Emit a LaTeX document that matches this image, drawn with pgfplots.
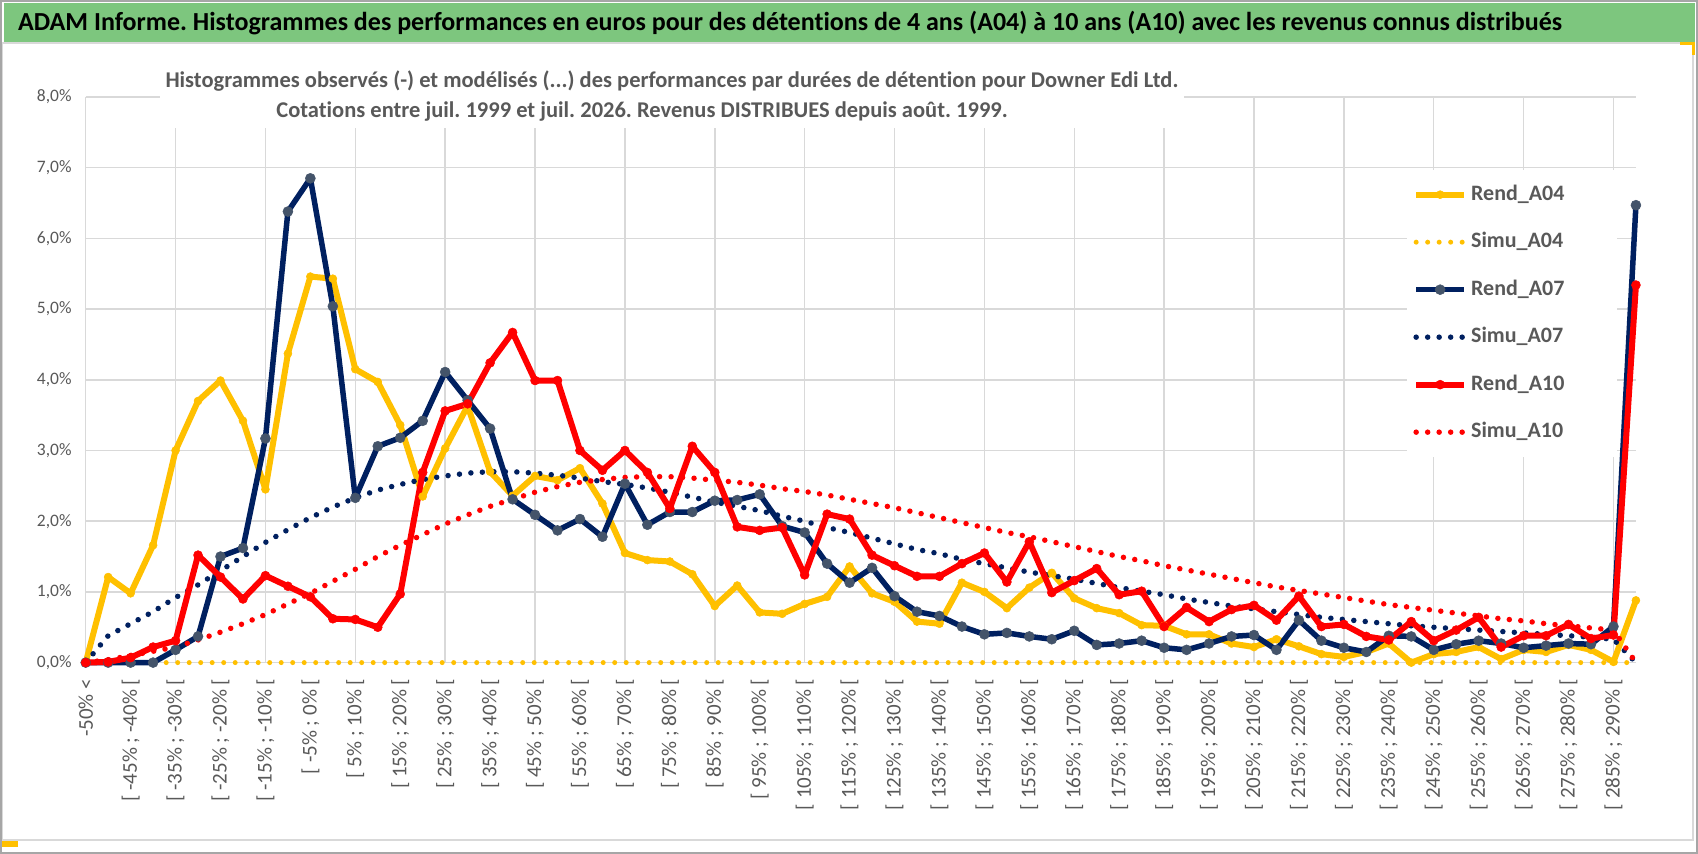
\documentclass[border=0pt]{standalone}
\usepackage{pgfplots}
\pgfplotsset{compat=1.18}
\usepackage{pgfplotstable}
\usepackage{fontspec}
\setmainfont{Carlito}[Ligatures=NoCommon]
\frenchspacing
\definecolor{yellowc}{HTML}{FFC000}
\definecolor{navyc}{HTML}{002060}
\definecolor{slatec}{HTML}{44546A}
\definecolor{redc}{HTML}{FF0000}
\definecolor{gridgray}{HTML}{D9D9D9}
\definecolor{textgray}{HTML}{595959}
\definecolor{titlegreen}{HTML}{7DC67E}
\definecolor{framegray}{HTML}{A6A6A6}

\pgfplotstableread{
i a04 s04 a07 s07 a10 s10
0 0.00 0 0.00 0.00 0.00 0.00
1 1.21 0 0.00 0.38 0.01 0.04
2 0.98 0 0.00 0.55 0.07 0.10
3 1.66 0 0.00 0.72 0.22 0.16
4 3.00 0 0.18 0.92 0.31 0.22
5 3.70 0 0.37 1.10 1.52 0.32
6 3.99 0 1.50 1.30 1.21 0.43
7 3.42 0 1.62 1.50 0.90 0.55
8 2.45 0 3.17 1.70 1.23 0.68
9 4.37 0 6.38 1.88 1.08 0.83
10 5.46 0 6.85 2.05 0.93 0.98
11 5.43 0 5.04 2.20 0.62 1.15
12 4.15 0 2.33 2.33 0.61 1.32
13 3.97 0 3.06 2.44 0.50 1.50
14 3.36 0 3.18 2.52 0.97 1.66
15 2.35 0 3.42 2.59 2.69 1.81
16 3.03 0 4.11 2.64 3.56 1.96
17 3.63 0 3.71 2.68 3.66 2.09
18 2.70 0 3.31 2.70 4.24 2.21
19 2.36 0 2.31 2.70 4.67 2.31
20 2.64 0 2.09 2.68 3.99 2.41
21 2.58 0 1.87 2.65 3.99 2.49
22 2.75 0 2.03 2.61 3.00 2.55
23 2.25 0 1.78 2.56 2.72 2.59
24 1.55 0 2.53 2.52 3.00 2.62
25 1.45 0 1.95 2.47 2.69 2.63
26 1.43 0 2.13 2.41 2.18 2.63
27 1.25 0 2.13 2.34 3.06 2.61
28 0.80 0 2.29 2.27 2.69 2.58
29 1.09 0 2.30 2.21 1.92 2.55
30 0.71 0 2.38 2.15 1.87 2.51
31 0.69 0 1.93 2.07 1.91 2.46
32 0.83 0 1.84 2.00 1.24 2.42
33 0.93 0 1.40 1.91 2.10 2.37
34 1.36 0 1.13 1.84 2.03 2.31
35 0.98 0 1.34 1.76 1.52 2.25
36 0.86 0 0.94 1.68 1.37 2.19
37 0.58 0 0.72 1.60 1.22 2.12
38 0.55 0 0.66 1.54 1.22 2.05
39 1.13 0 0.51 1.46 1.40 1.98
40 1.00 0 0.40 1.40 1.55 1.91
41 0.77 0 0.42 1.34 1.14 1.84
42 1.06 0 0.37 1.28 1.71 1.78
43 1.27 0 0.33 1.23 0.99 1.71
44 0.91 0 0.45 1.18 1.16 1.64
45 0.77 0 0.25 1.12 1.33 1.57
46 0.70 0 0.27 1.06 0.96 1.50
47 0.53 0 0.31 1.01 1.01 1.44
48 0.52 0 0.21 0.96 0.51 1.37
49 0.40 0 0.18 0.90 0.78 1.31
50 0.40 0 0.27 0.85 0.58 1.25
51 0.27 0 0.37 0.80 0.75 1.19
52 0.22 0 0.39 0.76 0.81 1.13
53 0.33 0 0.18 0.72 0.60 1.07
54 0.23 0 0.60 0.68 0.94 1.02
55 0.12 0 0.31 0.64 0.51 0.97
56 0.08 0 0.21 0.61 0.54 0.92
57 0.15 0 0.15 0.58 0.37 0.87
58 0.27 0 0.38 0.55 0.32 0.82
59 0.00 0 0.37 0.52 0.58 0.78
60 0.12 0 0.18 0.50 0.31 0.74
61 0.15 0 0.26 0.48 0.46 0.70
62 0.22 0 0.31 0.46 0.64 0.66
63 0.05 0 0.27 0.44 0.22 0.62
64 0.18 0 0.21 0.42 0.38 0.59
65 0.15 0 0.24 0.40 0.38 0.55
66 0.25 0 0.27 0.38 0.54 0.52
67 0.18 0 0.26 0.36 0.34 0.49
68 0.01 0 0.51 0.33 0.39 0.46
69 0.88 0 6.47 0.00 5.34 0.00
}\data

\begin{document}
\begin{tikzpicture}
\useasboundingbox (0,0) rectangle (1698pt,854pt);
\fill[white] (0,0) rectangle (1698pt,854pt);
% chart area frame
\draw[gridgray, line width=1.5pt] (2pt,14pt) rectangle (1693pt,811pt);
% title bar
\fill[titlegreen] (4pt,812pt) rectangle (1695pt,851pt);
\node[anchor=west, inner sep=0pt, text=black, font=\bfseries\fontsize{26}{30}\selectfont] at (18pt,831pt) {ADAM Informe. Histogrammes des performances en euros pour des détentions de 4 ans (A04) à 10 ans (A10) avec les revenus connus distribués};

\begin{axis}[
  at={(85.7pt,191.4pt)}, anchor=south west,
  scale only axis, width=1550.3pt, height=565.6pt,
  xmin=0, xmax=69, ymin=0, ymax=8,
  clip=false,
  axis line style={draw=none},
  tick style={draw=none},
  major tick length=0pt,
  /pgf/number format/assume math mode=true,
  ytick={0,1,...,8},
  ymajorgrids,
  grid style={draw=gridgray, line width=1.5pt},
  yticklabel={\pgfmathprintnumber[fixed,fixed zerofill,precision=1,use comma]{\tick}\%},
  yticklabel style={font=\fontsize{17.5}{20}\selectfont, text=textgray, anchor=east, inner sep=0pt},
  yticklabel shift=14pt,
  xtick={0,2,...,68},
  xticklabels={{-50\% <},{[ -45\% ; -40\% [},{[ -35\% ; -30\% [},{[ -25\% ; -20\% [},{[ -15\% ; -10\% [},{[ -5\% ; 0\% [},{[ 5\% ; 10\% [},{[ 15\% ; 20\% [},{[ 25\% ; 30\% [},{[ 35\% ; 40\% [},{[ 45\% ; 50\% [},{[ 55\% ; 60\% [},{[ 65\% ; 70\% [},{[ 75\% ; 80\% [},{[ 85\% ; 90\% [},{[ 95\% ; 100\% [},{[ 105\% ; 110\% [},{[ 115\% ; 120\% [},{[ 125\% ; 130\% [},{[ 135\% ; 140\% [},{[ 145\% ; 150\% [},{[ 155\% ; 160\% [},{[ 165\% ; 170\% [},{[ 175\% ; 180\% [},{[ 185\% ; 190\% [},{[ 195\% ; 200\% [},{[ 205\% ; 210\% [},{[ 215\% ; 220\% [},{[ 225\% ; 230\% [},{[ 235\% ; 240\% [},{[ 245\% ; 250\% [},{[ 255\% ; 260\% [},{[ 265\% ; 270\% [},{[ 275\% ; 280\% [},{[ 285\% ; 290\% [}},
  xticklabel style={font=\fontsize{21}{24}\selectfont, text=textgray, rotate=90, anchor=east, inner sep=0pt},
  xticklabel shift=16pt,
  extra x ticks={0,4,...,68},
  extra x tick labels={},
  extra x tick style={grid=major},
  legend cell align=left,
  legend image code/.code={\draw[mark repeat=2,mark phase=2,#1] plot coordinates {(0pt,0pt) (24pt,0pt) (48pt,0pt)};},
  legend style={at={(0.8523,0.871)}, anchor=north west, draw=none, fill=white,
    inner xsep=6pt, inner ysep=14pt, row sep=26.5pt,
    font=\bfseries\fontsize{22}{26}\selectfont, text=textgray,
    nodes={inner sep=0pt, text height=16pt, text depth=5pt, text width=140pt},
    /tikz/every odd column/.append style={column sep=4pt}},
  every axis plot/.append style={line join=round},
]
\addplot[draw=yellowc, line width=6pt, mark=*, mark size=4pt, mark options={solid, fill=yellowc, draw=yellowc, line width=0.5pt}] table[x=i, y=a04] {\data};
\addlegendentry{Rend\_A04}
\addplot[draw=yellowc, line width=5pt, line cap=round, dash pattern=on 0pt off 11.5pt] table[x=i, y=s04] {\data};
\addlegendentry{Simu\_A04}
\addplot[draw=navyc, line width=5.5pt, mark=*, mark size=5pt, mark options={solid, fill=slatec, draw=slatec, line width=0.5pt}] table[x=i, y=a07] {\data};
\addlegendentry{Rend\_A07}
\addplot[draw=navyc, line width=5.5pt, line cap=round, dash pattern=on 0pt off 11.5pt] table[x=i, y=s07] {\data};
\addlegendentry{Simu\_A07}
\addplot[draw=redc, line width=6pt, mark=*, mark size=4.5pt, mark options={solid, fill=redc, draw=redc, line width=0.5pt}] table[x=i, y=a10] {\data};
\addlegendentry{Rend\_A10}
\addplot[draw=redc, line width=5.5pt, line cap=round, dash pattern=on 0pt off 11.5pt] table[x=i, y=s10] {\data};
\addlegendentry{Simu\_A10}
\end{axis}

% subtitle box
\fill[white] (160pt,726pt) rectangle (1184pt,794pt);
\node[inner sep=0pt, text=textgray, font=\bfseries\fontsize{22.5}{26}\selectfont] at (672pt,773pt) {Histogrammes observés (-) et modélisés (...) des performances par durées de détention pour Downer Edi Ltd.};
\node[inner sep=0pt, text=textgray, font=\bfseries\fontsize{22.5}{26}\selectfont] at (642pt,742.4pt) {Cotations entre juil. 1999 et juil. 2026. Revenus DISTRIBUES depuis août. 1999.};

% small yellow marks
\fill[yellowc] (0pt,7pt) rectangle (18pt,13pt);
\fill[yellowc] (1680pt,809pt) rectangle (1695pt,812pt);
\fill[yellowc] (1692pt,799pt) rectangle (1695pt,812pt);
% outer frame
\draw[framegray, line width=2pt] (1pt,1pt) rectangle (1697pt,853pt);
\end{tikzpicture}
\end{document}
